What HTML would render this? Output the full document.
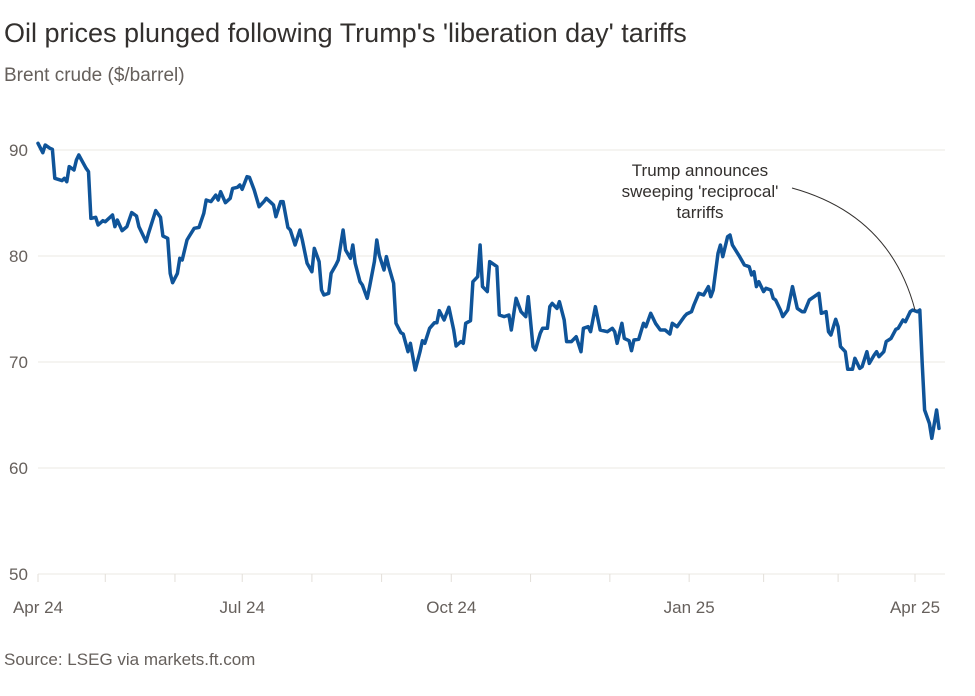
<!DOCTYPE html>
<html><head><meta charset="utf-8">
<style>
body{margin:0;background:#fff;width:975px;height:696px;overflow:hidden;font-family:"Liberation Sans",sans-serif;}
#title{position:absolute;left:4px;top:18px;font-size:27px;color:#33302e;margin:0;font-weight:normal;}
#sub{position:absolute;left:4px;top:65px;font-size:19px;color:#66605c;}
#src{position:absolute;left:4px;top:650px;font-size:17px;color:#66605c;}
svg{position:absolute;left:0;top:0;}
</style></head><body>
<h1 id="title">Oil prices plunged following Trump's 'liberation day' tariffs</h1>
<div id="sub">Brent crude ($/barrel)</div>
<div id="src">Source: LSEG via markets.ft.com</div>
<svg id="chart" width="975" height="696"></svg>
<script>
const days=[0,2,3,5,6,7,10,11,12,13,15,16,17,20,21,22,24,25,27,28,31,32,33,35,37,39,41,42,45,46,49,51,52,54,55,56,58,59,60,62,63,65,67,69,70,72,74,75,76,78,80,81,83,84,85,87,88,90,92,94,95,97,98,99,101,102,104,105,107,109,110,112,114,115,117,118,119,121,122,124,125,127,128,130,131,132,134,135,137,138,140,141,142,144,145,146,148,149,151,152,154,155,157,159,160,161,163,165,166,167,169,171,173,174,176,177,178,180,181,183,184,185,187,188,191,192,194,196,197,199,201,203,204,206,207,209,210,212,213,214,216,217,219,220,222,224,226,227,229,230,232,234,237,239,240,241,243,244,246,247,248,250,252,253,255,257,259,261,263,264,266,269,270,272,273,275,277,279,280,281,283,284,285,287,288,289,292,294,296,297,298,299,300,302,303,305,306,307,309,310,312,314,316,318,319,321,323,325,326,328,329,330,332,333,334,336,337,339,340,342,343,345,346,348,349,350,352,353,355,357,358,360,361,363,364,366,367,368,369,371,372,374,375];
const prices=[90.63,89.75,90.47,90.16,90.06,87.33,87.11,87.33,87.01,88.43,88.11,89.06,89.53,88.27,87.96,83.55,83.65,82.92,83.33,83.24,83.87,82.77,83.40,82.39,82.77,84.09,83.77,82.77,81.35,82.14,84.28,83.65,81.89,81.67,78.36,77.48,78.36,79.78,79.62,81.51,81.89,82.61,82.70,84.03,85.28,85.13,85.75,85.28,86.07,85.03,85.44,86.38,86.48,86.70,86.29,87.48,87.42,86.23,84.65,85.13,85.44,85.03,84.81,83.71,85.13,85.13,82.70,82.45,81.04,82.45,81.51,79.31,78.52,80.72,79.47,76.79,76.32,76.48,78.36,79.15,79.62,82.45,80.57,79.78,81.04,79.31,77.58,77.26,76.01,77.11,79.47,81.51,80.09,78.68,79.94,78.99,77.42,73.65,72.77,72.64,70.97,71.76,69.25,70.97,72.01,71.76,73.18,73.71,73.71,74.84,73.96,75.16,73.02,71.51,71.92,71.76,73.65,73.90,77.58,78.05,81.04,77.11,76.64,79.47,79.0,74.43,74.28,74.43,73.02,76.01,74.75,74.28,76.16,71.45,71.13,72.70,73.18,73.18,75.22,75.53,75.06,75.69,73.96,71.92,71.92,72.39,70.97,73.18,73.33,72.86,75.22,73.02,72.86,73.18,72.86,71.76,73.65,72.23,72.01,71.07,72.08,72.14,73.65,73.33,74.59,73.65,73.02,73.02,72.64,73.65,73.33,74.28,74.53,74.75,75.38,76.48,76.32,77.11,76.16,76.79,80.25,81.04,79.94,81.82,81.98,81.04,79.94,79.15,78.99,78.21,78.52,77.11,77.58,76.64,76.95,76.79,76.01,75.85,74.91,74.28,74.91,77.11,75.06,74.75,74.75,75.85,76.16,76.48,74.59,74.75,72.86,72.55,74.03,73.33,71.45,70.97,69.31,69.31,70.35,69.40,69.56,70.97,69.87,70.66,70.97,70.50,70.97,71.92,72.23,73.08,73.18,73.96,73.80,74.75,74.91,74.75,74.91,69.87,65.47,64.21,62.80,65.47,63.74];
const yTicks=[50,60,70,80,90];
const xTickLabels=["Apr 24","Jul 24","Oct 24","Jan 25","Apr 25"];
const xTickDays=[0,85,172,271,365];
const monthTickDays=[0,28,57,85,114,143,172,205,238,271,302,333,365];

const NS="http://www.w3.org/2000/svg";
const svg=document.getElementById('chart');
const x=d=>38+d*(915-38)/365;
const y=v=>574-(v-50)*10.6;
function mk(tag,attrs){const e=document.createElementNS(NS,tag);for(const k in attrs)e.setAttribute(k,attrs[k]);svg.appendChild(e);return e;}
yTicks.forEach(t=>{
  const l=mk('line',{x1:38,x2:945,y1:y(t),y2:y(t),stroke:'#ebe8e3','stroke-width':1});
  
  
  const tx=mk('text',{x:9,y:y(t)+6,'font-size':17,fill:'#66605c','font-family':'Liberation Sans, sans-serif'});
  tx.textContent=t;
  
  
});
monthTickDays.forEach(d=>{
  const tk=mk('line',{x1:x(d),x2:x(d),y1:574,y2:582,stroke:'#e3dfd9','stroke-width':1});
  
  
});
xTickDays.forEach((d,i)=>{
  const tx=mk('text',{x:x(d),y:613,'font-size':17,fill:'#66605c','text-anchor':'middle','font-family':'Liberation Sans, sans-serif'});
  tx.textContent=xTickLabels[i];
  
  
});
const pts=days.map((d,i)=>x(d).toFixed(1)+','+y(prices[i]).toFixed(1)).join(' ');
const line=mk('polyline',{points:pts,fill:'none',stroke:'#0f5499','stroke-width':3.5,'stroke-linejoin':'round','stroke-linecap':'round'});


const ann=mk('path',{d:'M792,188 Q890,215 915,310',fill:'none',stroke:'#33302e','stroke-width':1});


["Trump announces","sweeping 'reciprocal'","tarriffs"].forEach((s,i)=>{
  const t=mk('text',{x:700,y:176+i*21,'font-size':17,fill:'#33302e','text-anchor':'middle','font-family':'Liberation Sans, sans-serif'});
  t.textContent=s;
  
  
});
</script>
</body></html>
